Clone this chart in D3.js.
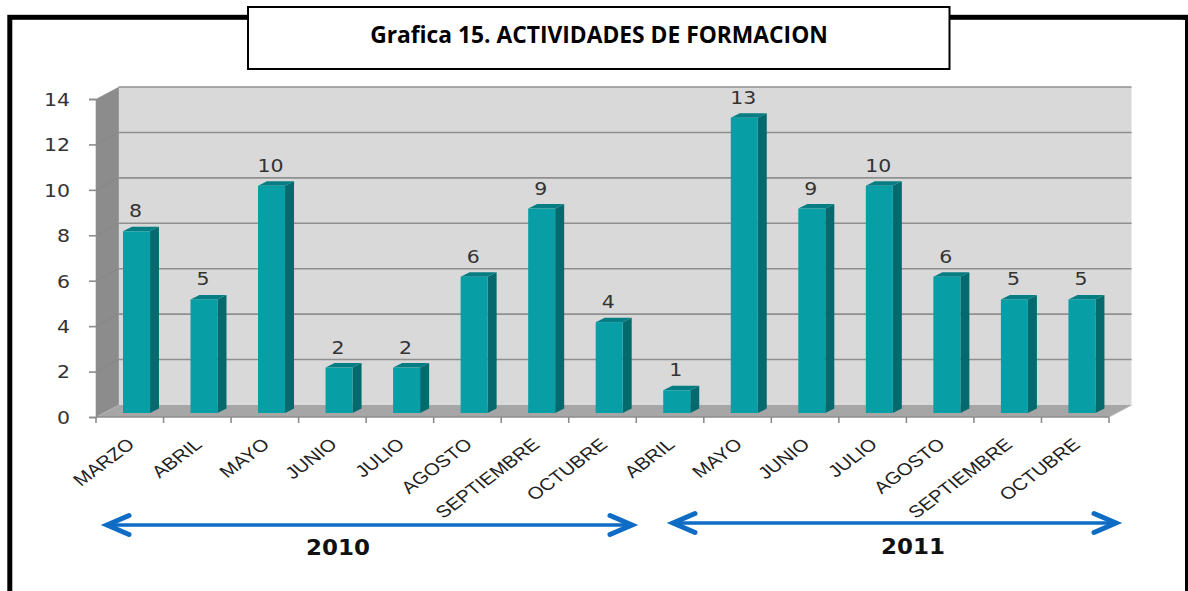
<!DOCTYPE html>
<html><head><meta charset="utf-8">
<script src="https://cdn.jsdelivr.net/npm/d3@7"></script>
<style>html,body{margin:0;padding:0;background:#fff}svg{display:block}</style>
</head><body><svg id="c" width="1188" height="591"></svg>
<script>
const title = "Grafica 15. ACTIVIDADES DE FORMACION";
const months = ["MARZO","ABRIL","MAYO","JUNIO","JULIO","AGOSTO","SEPTIEMBRE","OCTUBRE","ABRIL","MAYO","JUNIO","JULIO","AGOSTO","SEPTIEMBRE","OCTUBRE"];
const values = [8,5,10,2,2,6,9,4,1,13,9,10,6,5,5];
const yTicks = [0,2,4,6,8,10,12,14];
const years = [{label:"2010",from:0,to:7},{label:"2011",from:8,to:14}];

const svg = d3.select("#c");
const FX0=96, FX1=1109, FY0=417, FY14=99;
const DX=22.5, DY=12;           // depth of the 3D box
const BDX=9, BDY=4.5;           // depth of the bars
const x = d3.scaleBand().domain(d3.range(months.length)).range([FX0,FX1]);
const y = d3.scaleLinear().domain([0,14]).range([FY0,FY14]);
const fontD='"DejaVu Sans",sans-serif', fontL='"Liberation Sans",sans-serif';

// frame
svg.append("rect").attr("x",9.8).attr("y",17.3).attr("width",1176).attr("height",640)
  .attr("fill","#fff").attr("stroke","#000").attr("stroke-width",5);
svg.append("rect").attr("x",1185).attr("y",20).attr("width",3).attr("height",571).attr("fill","#000");
svg.append("rect").attr("x",1180).attr("y",20).attr("width",5).attr("height",571).attr("fill","#fff");

// title
svg.append("rect").attr("x",248).attr("y",7).attr("width",701.5).attr("height",62)
  .attr("fill","#fff").attr("stroke","#000").attr("stroke-width",2);
svg.append("text").attr("x",599).attr("y",43).attr("text-anchor","middle")
  .attr("font-family",'"Open Sans",sans-serif').attr("font-weight",700).attr("font-size",22.8)
  .attr("fill","#000").text(title);

// 3D box
const poly=(pts,fill)=>svg.append("polygon").attr("points",pts.map(p=>p.join(",")).join(" ")).attr("fill",fill);
poly([[FX0+DX,FY14-DY],[FX1+DX,FY14-DY],[FX1+DX,FY0-DY],[FX0+DX,FY0-DY]],"#d9d9d9");
poly([[FX0,FY14],[FX0+DX,FY14-DY],[FX0+DX,FY0-DY],[FX0,FY0]],"#8c8c8c");
poly([[FX0,FY0],[FX0+DX,FY0-DY],[FX1+DX,FY0-DY],[FX1,FY0]],"#a6a6a6");

// gridlines
svg.append("g").selectAll("line").data(yTicks.filter(d=>d>0)).join("line")
  .attr("x1",FX0+DX).attr("x2",FX1+DX).attr("y1",d=>y(d)-DY).attr("y2",d=>y(d)-DY)
  .attr("stroke","#8f8f8f").attr("stroke-width",1.6);
svg.append("g").selectAll("line").data(yTicks.filter(d=>d>0&&d<14)).join("line")
  .attr("x1",FX0).attr("x2",FX0+DX).attr("y1",d=>y(d)).attr("y2",d=>y(d)-DY)
  .attr("stroke","#868686").attr("stroke-width",1);
svg.append("line").attr("x1",FX0+DX).attr("x2",FX0+DX).attr("y1",FY14-DY).attr("y2",FY0-DY).attr("stroke","#9a9a9a").attr("stroke-width",1);

// y axis
const yAxis = svg.append("g").attr("transform",`translate(${FX0},0)`)
  .call(d3.axisLeft(y).tickValues(yTicks).tickSize(7).tickPadding(10));
yAxis.select(".domain").attr("stroke","#8c8c8c").attr("stroke-width",1.6);
yAxis.selectAll(".tick line").attr("stroke","#8c8c8c").attr("stroke-width",1.6);
yAxis.selectAll("text").attr("font-family",fontD).attr("font-size",17.5).attr("fill","#333")
  .attr("text-anchor","end").attr("dy","0.36em").attr("x",0)
  .attr("transform",`translate(-26,0) scale(1.17,1)`);

// x axis line + edge ticks
const edges = d3.range(months.length+1).map(i=>FX0+i*x.step());
svg.append("line").attr("x1",FX0).attr("x2",FX1).attr("y1",FY0).attr("y2",FY0).attr("stroke","#8c8c8c").attr("stroke-width",1.6);
svg.append("g").selectAll("line").data(edges).join("line")
  .attr("x1",d=>d).attr("x2",d=>d).attr("y1",FY0).attr("y2",FY0+6).attr("stroke","#8c8c8c").attr("stroke-width",1.6);
svg.append("line").attr("x1",FX1).attr("x2",FX1+DX).attr("y1",FY0).attr("y2",FY0-DY).attr("stroke","#b5b5b5").attr("stroke-width",1);

// bars
const bx=i=>x(i)+x.bandwidth()/2+6.7-13.5, bw=27, lift=4;
const bars = svg.append("g").selectAll("g").data(values).join("g");
bars.append("polygon").attr("fill","#046a6e").attr("points",(d,i)=>{
  const X=bx(i)+bw,T=y(d)-lift,B=y(0)-lift;
  return [[X,T],[X+BDX,T-BDY],[X+BDX,B-BDY],[X,B]].map(p=>p.join(",")).join(" ");});
bars.append("polygon").attr("fill","#057d82").attr("points",(d,i)=>{
  const X=bx(i),T=y(d)-lift;
  return [[X,T],[X+BDX,T-BDY],[X+bw+BDX,T-BDY],[X+bw,T]].map(p=>p.join(",")).join(" ");});
bars.append("rect").attr("fill","#089ea6").attr("x",(d,i)=>bx(i)).attr("width",bw)
  .attr("y",d=>y(d)-lift).attr("height",d=>y(0)-y(d));

// value labels
bars.append("text").attr("text-anchor","middle").attr("font-family",fontD).attr("font-size",17.5).attr("fill","#333")
  .attr("transform",(d,i)=>`translate(${bx(i)+bw/2-1},${y(d)-lift-14}) scale(1.17,1)`).text(d=>d);

// category labels
svg.append("g").selectAll("text").data(months).join("text")
  .attr("text-anchor","end").attr("font-family",fontL).attr("font-size",17).attr("fill","#222")
  .attr("transform",(d,i)=>`translate(${x(i)+x.bandwidth()/2+6},${FY0+29}) scale(1.2,1) rotate(-42)`).text(d=>d);

// year arrows
const arrowY={ "2010":525,"2011":523 }, arrowX={ "2010":[102,637],"2011":[668,1121] };
years.forEach(yr=>{
  const [a,b]=arrowX[yr.label], Y=arrowY[yr.label];
  const g=svg.append("g").attr("fill","none").attr("stroke","#0e6cc4").attr("stroke-linecap","round").attr("stroke-linejoin","miter");
  g.append("line").attr("x1",a+5).attr("x2",b-5).attr("y1",Y).attr("y2",Y).attr("stroke-width",3.6);
  g.append("path").attr("stroke-width",5).attr("d",`M${a+27},${Y-9.5}L${a+5},${Y}L${a+27},${Y+9.5}`);
  g.append("path").attr("stroke-width",5).attr("d",`M${b-27},${Y-9.5}L${b-5},${Y}L${b-27},${Y+9.5}`);
  svg.append("text").attr("text-anchor","middle").attr("font-family",fontD).attr("font-weight",700).attr("font-size",20.5)
    .attr("fill","#111").attr("transform",`translate(${yr.label==="2010"?338:913},${yr.label==="2010"?555:554}) scale(1.12,1)`).text(yr.label);
});
</script></body></html>
